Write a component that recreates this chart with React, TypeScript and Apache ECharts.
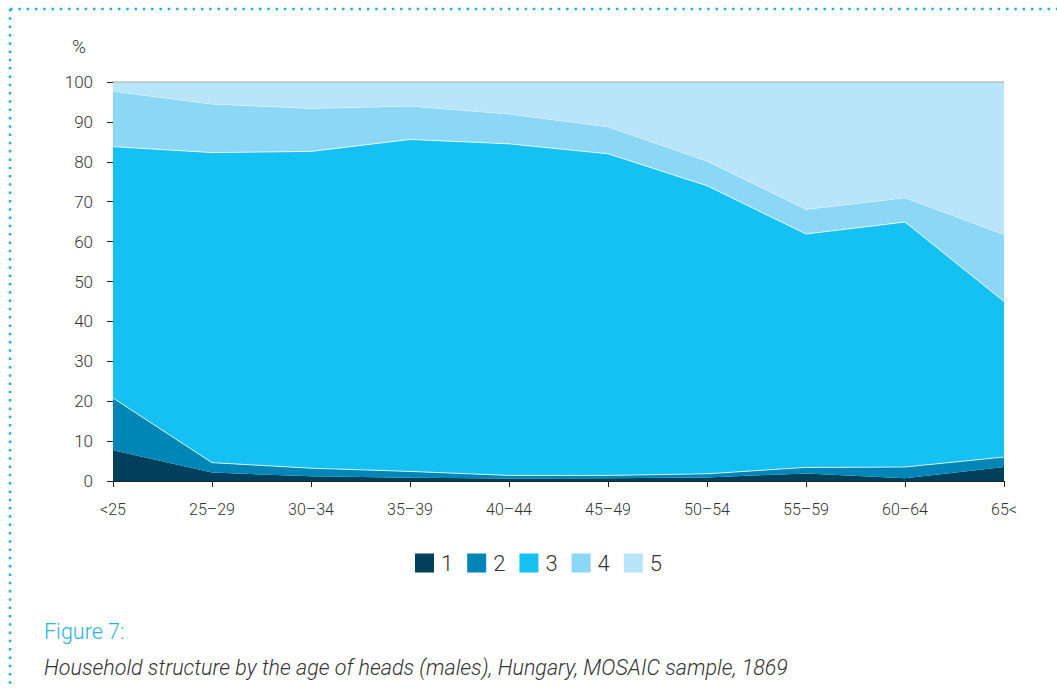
import React, { useEffect, useRef } from "react";
import * as echarts from "echarts";

const categories = ["<25", "25–29", "30–34", "35–39", "40–44", "45–49", "50–54", "55–59", "60–64", "65<"];
const seriesNames = ["1", "2", "3", "4", "5"];
const s1 = [7.7, 2.1, 1.2, 0.8, 0.6, 0.7, 0.9, 1.9, 0.7, 3.5];
const s2 = [13.1, 2.5, 2.0, 1.6, 0.8, 0.7, 0.9, 1.5, 2.8, 2.5];
const s3 = [63.0, 77.7, 79.4, 83.2, 83.1, 80.6, 72.2, 58.5, 61.4, 39.0];
const s4 = [13.9, 12.2, 10.8, 8.4, 7.5, 6.8, 6.2, 6.2, 6.1, 16.8];
const s5 = [2.3, 5.5, 6.6, 6.0, 8.0, 11.2, 19.8, 31.9, 29.0, 38.2];
const values = [s1, s2, s3, s4, s5];
const colors = ["#00405a", "#0085b7", "#15c1f2", "#8cd7f6", "#b8e5f9"];
const lineColors = ["rgba(0,0,0,0)", "rgba(255,255,255,0.75)", "rgba(255,255,255,0.75)", "rgba(255,255,255,0.8)", "#bfbfbf"];

const FONT = "Roboto";

export default function App() {
  const ref = useRef<HTMLDivElement>(null);
  useEffect(() => {
    if (!ref.current) return;
    const chart = echarts.init(ref.current, null, { renderer: "svg" });
    chart.setOption({
      animation: false,
      backgroundColor: "#ffffff",
      textStyle: { fontFamily: FONT },
      grid: { left: 113, right: 53, top: 82, bottom: 207, containLabel: false },
      legend: {
        data: seriesNames,
        top: 547,
        left: 410,
        itemWidth: 19,
        itemHeight: 19,
        itemGap: 14,
        icon: "rect",
        textStyle: { fontSize: 22, color: "#333", fontFamily: FONT, fontWeight: 300, padding: [0, 0, 0, 2] },
      },
      xAxis: {
        type: "category",
        data: categories,
        boundaryGap: false,
        axisLine: { show: true, lineStyle: { color: "#222", width: 1 } },
        axisTick: { show: true, length: 6, lineStyle: { color: "#222" } },
        axisLabel: { fontSize: 16, color: "#333", margin: 20, fontFamily: FONT, fontWeight: 300 },
        splitLine: { show: false },
      },
      yAxis: {
        type: "value",
        min: 0,
        max: 100,
        interval: 10,
        axisLine: { show: true, lineStyle: { color: "#222", width: 1 } },
        axisTick: { show: true, length: 6, lineStyle: { color: "#222" } },
        axisLabel: { fontSize: 17, color: "#333", margin: 20, fontFamily: FONT, fontWeight: 300 },
        splitLine: { show: false },
      },
      series: values.map((v, i) => ({
        name: seriesNames[i],
        type: "line",
        stack: "total",
        data: v,
        symbol: "none",
        clip: false,
        z: i === 4 ? 3 : 2,
        lineStyle: { width: i === 4 ? 1.5 : i === 0 ? 0 : 1, color: lineColors[i] },
        itemStyle: { color: colors[i] },
        areaStyle: { color: colors[i], opacity: 1 },
      })),
      graphic: [
        { type: "text", left: 72, top: 37, style: { text: "%", fontSize: 19, fill: "#333", fontFamily: FONT, fontWeight: 300 } },
        { type: "text", left: 44, top: 620, style: { text: "Figure 7:", fontSize: 21.5, fill: "#29b3e4", fontFamily: FONT, fontWeight: 300 } },
        {
          type: "text",
          left: 44,
          top: 656,
          style: {
            text: "Household structure by the age of heads (males), Hungary, MOSAIC sample, 1869",
            fontSize: 21.5,
            fill: "#333",
            fontStyle: "italic",
            fontFamily: FONT,
            fontWeight: 300,
          },
        },
        {
          type: "line",
          shape: { x1: 10, y1: 9, x2: 1057, y2: 9 },
          style: { stroke: "#17b5e6", lineWidth: 2.5, lineDash: [2.5, 5.8] },
        },
        {
          type: "line",
          shape: { x1: 10, y1: 9, x2: 10, y2: 688 },
          style: { stroke: "#17b5e6", lineWidth: 2.5, lineDash: [2.5, 5.8] },
        },
      ],
    });
    return () => chart.dispose();
  }, []);
  return (
    <div
      ref={ref}
      style={{ position: "fixed", left: 0, top: 0, width: 1057, height: 688, background: "#fff" }}
    />
  );
}
